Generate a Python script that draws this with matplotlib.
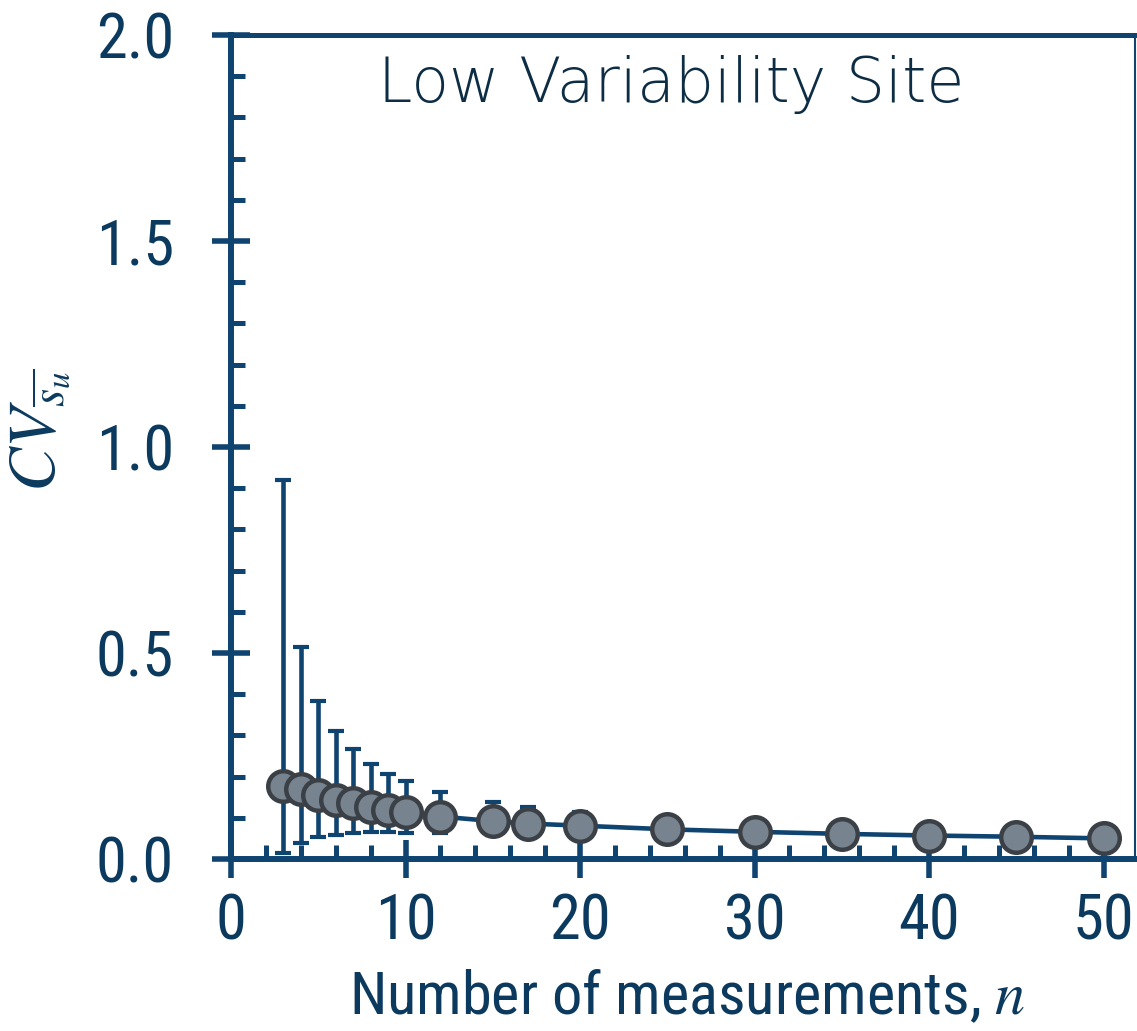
import matplotlib.pyplot as plt
from matplotlib import font_manager
from matplotlib.ticker import MultipleLocator

# valeurs
n = [3, 4, 5, 6, 7, 8, 9, 10, 12, 15, 17, 20, 25, 30, 35, 40, 45, 50]
cv = [0.178, 0.170, 0.155, 0.143, 0.135, 0.127, 0.119, 0.113, 0.103, 0.092,
      0.086, 0.081, 0.072, 0.066, 0.061, 0.057, 0.054, 0.050]
haut = [0.92, 0.515, 0.383, 0.31, 0.266, 0.23, 0.206, 0.189, 0.163, 0.139,
        0.127, 0.115, 0.095, 0.085, 0.078, 0.072, 0.068, 0.064]
bas = [0.014, 0.040, 0.054, 0.058, 0.062, 0.065, 0.065, 0.062, 0.063, 0.058,
       0.053, 0.055, 0.055, 0.050, 0.047, 0.045, 0.043, 0.040]

bleu = "#0f4470"
texte = "#0b3a5e"

# police du titre : DejaVu ExtraLight si elle est là, sinon Open Sans Light
f = font_manager.findfont(font_manager.FontProperties(family="DejaVu Sans", weight=200))
if "ExtraLight" in f:
    titre_police = dict(family="DejaVu Sans", weight=200, fontsize=44.5)
else:
    titre_police = dict(family=["Open Sans", "DejaVu Sans"], weight="light", fontsize=48)

err = [[c - b for c, b in zip(cv, bas)], [h - c for h, c in zip(haut, cv)]]

fig = plt.figure(figsize=(11.37, 10.31), dpi=100)
ax = fig.add_axes([231 / 1137, 172 / 1031, (1135 - 231) / 1137, (859 - 35) / 1031])

ax.errorbar(n, cv, yerr=err, fmt="none", ecolor=bleu, elinewidth=3.3,
            capsize=5.8, capthick=3, zorder=2)
ax.plot(n, cv, color=bleu, lw=3.3, zorder=3)
ax.plot(n, cv, "o", ms=22, mfc="#77838e", mec="#3a4046", mew=3.2, zorder=4)

ax.set_xlim(0, 51.8)
ax.set_ylim(0, 2.0)
ax.xaxis.set_major_locator(MultipleLocator(10))
ax.xaxis.set_minor_locator(MultipleLocator(2))
ax.yaxis.set_major_locator(MultipleLocator(0.5))
ax.yaxis.set_minor_locator(MultipleLocator(0.1))
ax.yaxis.set_major_formatter(plt.FuncFormatter(lambda v, p: f"{v:.1f}"))

for s in ["left", "bottom"]:
    ax.spines[s].set_linewidth(4.3)
    ax.spines[s].set_color(bleu)
ax.spines["top"].set_linewidth(3.6)
ax.spines["top"].set_color(bleu)
ax.spines["right"].set_linewidth(1.5)
ax.spines["right"].set_color(bleu)

police = ["Roboto Condensed", "Liberation Sans Narrow", "DejaVu Sans"]
ax.tick_params(which="major", direction="inout", length=28, width=4, color=bleu,
               labelsize=45, labelcolor=texte)
ax.tick_params(which="minor", direction="in", length=10, width=3.6, color=bleu)
ax.tick_params(axis="x", which="major", pad=10)
ax.tick_params(axis="y", which="major", pad=27)
for lab in ax.get_xticklabels() + ax.get_yticklabels():
    lab.set_family(police)
    lab.set_stretch("condensed")

ax.set_xlabel("Number of measurements, $n$", fontsize=43.5, color=texte,
              family=police, stretch="condensed")
ax.xaxis.set_label_coords(0.505, -0.133)
ax.set_ylabel(r"$CV_{\overline{s_u}}$", fontsize=48, color=texte)
ax.yaxis.set_label_coords(-0.175, 0.52)
ax.yaxis.label.set_math_fontfamily("stix")
ax.xaxis.label.set_math_fontfamily("stix")

ax.text(25.23, 1.837, "Low Variability Site", ha="center", va="baseline",
        color="#0d2d45", **titre_police)

plt.savefig("out.png", dpi=100)
